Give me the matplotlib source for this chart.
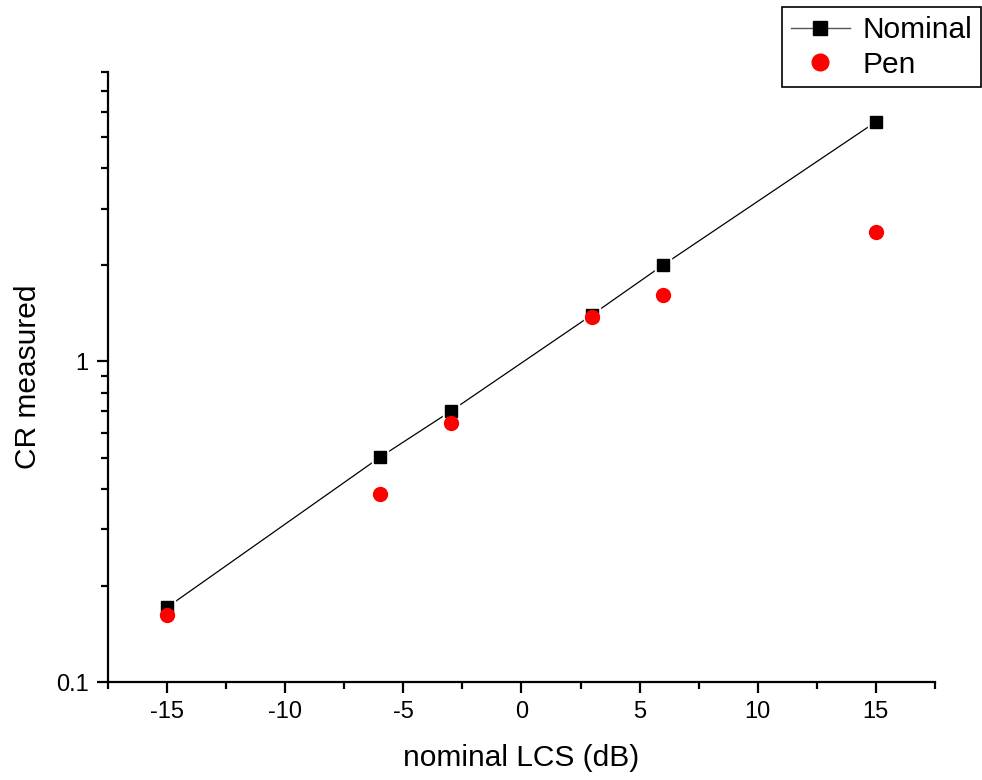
import numpy as np
import matplotlib.pyplot as plt
from matplotlib.ticker import LogLocator, NullFormatter, FixedLocator, FixedFormatter, MultipleLocator

plt.rcParams['font.family'] = ['Liberation Sans', 'DejaVu Sans']

lcs_db = [-15, -6, -3, 3, 6, 15]
nominal = [0.171, 0.502, 0.699, 1.40, 2.0, 5.59]
pen = [0.162, 0.387, 0.641, 1.377, 1.61, 2.54]

fig = plt.figure(figsize=(9.82, 7.8), dpi=100)
ax = fig.add_axes([0.110, 0.1256, 0.842, 0.7821])

# connecting line, with a small white gap left around each square
ax.plot(lcs_db, nominal, color='black', lw=0.9, zorder=1)
ax.plot(lcs_db, nominal, ls='none', marker='s', ms=12, mfc='white', mec='white', zorder=1.5)
ax.plot(lcs_db, nominal, ls='none', marker='s', ms=8.8,
        mfc='black', mec='black', zorder=2)
ax.plot(lcs_db, pen, ls='none', marker='o', ms=10,
        mfc='red', mec='red', zorder=3)

ax.set_yscale('log')
ax.set_xlim(-17.5, 17.5)
ax.set_ylim(0.1, 8)

ax.set_xticks([-15, -10, -5, 0, 5, 10, 15])
ax.set_xticklabels(['-15', '-10', '-5', '0', '5', '10', '15'])
ax.xaxis.set_minor_locator(MultipleLocator(2.5))
ax.yaxis.set_major_locator(FixedLocator([0.1, 1]))
ax.yaxis.set_major_formatter(FixedFormatter(['0.1', '1']))
ax.yaxis.set_minor_locator(LogLocator(base=10, subs=np.arange(2, 10)))
ax.yaxis.set_minor_formatter(NullFormatter())

for s in ['top', 'right']:
    ax.spines[s].set_visible(False)
for s in ['left', 'bottom']:
    ax.spines[s].set_linewidth(1.6)

ax.tick_params(which='major', direction='out', length=8, width=1.6, labelsize=17, pad=6)
ax.tick_params(which='minor', direction='out', length=5, width=1.6)

ax.set_xlabel('nominal LCS (dB)', fontsize=21.5, labelpad=15)
ax.set_ylabel('CR measured', fontsize=21.5, labelpad=10)

# legend handles: line plus square, and a bare circle
h1 = plt.Line2D([], [], color='#555555', lw=1.0, marker='s', ms=10,
                mfc='black', mec='black')
h2 = plt.Line2D([], [], ls='none', marker='o', ms=12, mfc='red', mec='red')
leg = fig.legend(handles=[h1, h2], labels=['Nominal', 'Pen'], loc='upper right',
                 bbox_to_anchor=(981 / 982, 1 - 7 / 780),
                 fontsize=21.5, frameon=True, fancybox=False, edgecolor='black',
                 framealpha=1, handlelength=2.0, handletextpad=0.4, borderpad=0.3,
                 labelspacing=0.22, borderaxespad=0)
leg.get_frame().set_linewidth(1.2)

fig.savefig('out.png', dpi=100)
